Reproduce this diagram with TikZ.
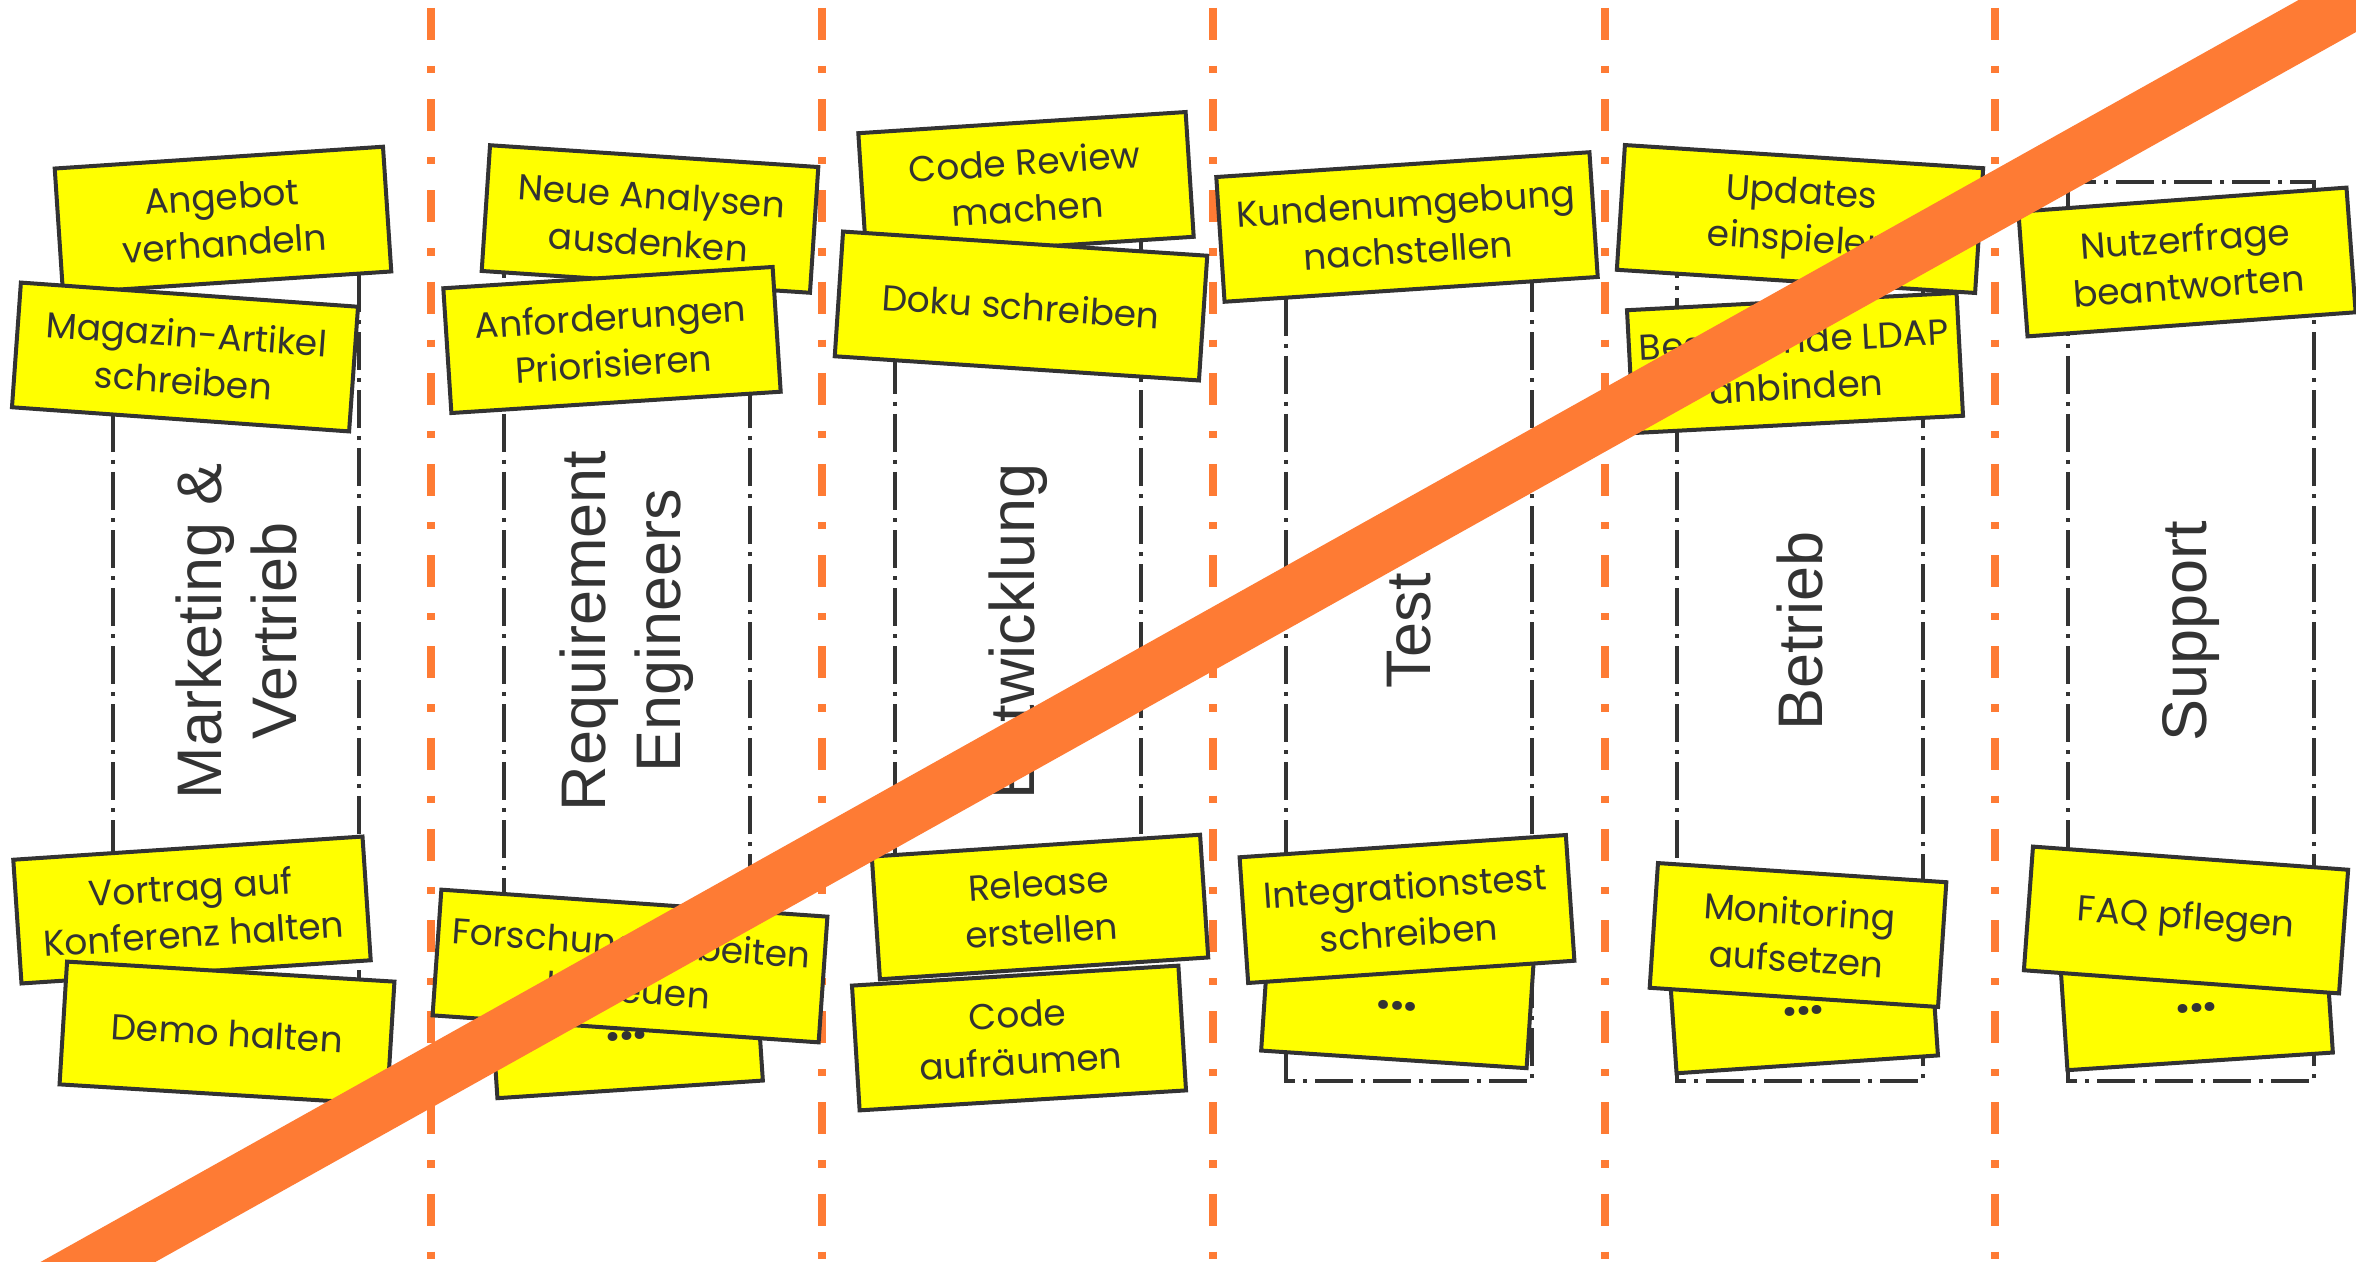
\documentclass[tikz,border=0pt]{standalone}
\usepackage{fontspec}
\newfontfamily\notefam{Poppins}
\newfontfamily\lanefam{Liberation Sans}
\definecolor{dkgray}{HTML}{333333}
\definecolor{noteyellow}{HTML}{FFFF00}
\definecolor{sepor}{RGB}{254,123,52}
\newcommand{\notedots}{\raisebox{-6.5pt}[0pt][0pt]{\bfseries\fontsize{24}{24}\selectfont ...}}
\tikzset{
  sepline/.style={draw=sepor, line width=3.6pt, dash pattern=on 16pt off 13pt on 3.6pt off 13pt},
  lanerect/.style={draw=dkgray, line width=1.6pt, dash pattern=on 19pt off 4pt on 2pt off 4pt},
  lanelabel/.style={rotate=90, align=center, text=dkgray, font=\lanefam\fontsize{31.5}{37.5}\selectfont, inner sep=0pt},
  note/.style={draw=dkgray, fill=noteyellow, line width=2pt, align=center, text=dkgray,
    font=\notefam\fontsize{18}{23.5}\selectfont, inner sep=0pt, minimum height=62.5pt},
  band/.style={draw=sepor, line width=28pt}
}
\begin{document}
\begin{tikzpicture}[x=0.5pt,y=0.5pt]
\useasboundingbox (0,0) rectangle (2356,-1262);
\fill[white] (0,0) rectangle (2356,-1262);
% separators
\foreach \sx/\nm in {431/s1,822/s2,1213/s3,1605/s4,1995/s5}{
  \coordinate (\nm t) at (\sx,-8);
  \coordinate (\nm b) at (\sx,-1270);
  \draw[sepline] (\nm t) -- (\nm b);
}
% lane rectangles and labels
\foreach \cx/\nm in {236/l1,627/l2,1018/l3,1409/l4,1800/l5,2191/l6}{
  \draw[lanerect] (\cx-123,-182) rectangle (\cx+123,-1081);
  \coordinate (\nm) at (\cx,-631);
}
\node[lanelabel] (lab1) at (l1) {Marketing \&\\Vertrieb};
\node[lanelabel] (lab2) at (l2) {Requirement\\Engineers};
\node[lanelabel] (lab3) at (l3) {Entwicklung};
\node[lanelabel] (lab4) at (l4) {Test};
\node[lanelabel] (lab5) at (l5) {Betrieb};
\node[lanelabel] (lab6) at (l6) {Support};
% notes lane 1
\node[note, minimum width=164.5pt, rotate=3.8] (ang) at (223,-220) {Angebot\\verhandeln};
\node[note, minimum width=169pt, rotate=-4.1] (mag) at (185,-357) {Magazin-Artikel\\schreiben};
\node[note, minimum width=175pt, minimum height=62pt, rotate=3.8] (vor) at (192,-910) {Vortrag auf\\Konferenz halten};
\node[note, minimum width=164pt, minimum height=61.5pt, rotate=-3.5] (demo) at (227,-1033) {Demo halten};
% lane 2
\node[note, minimum width=164.5pt, minimum height=63pt, rotate=-3.8] (neue) at (650,-219) {Neue Analysen\\ausdenken};
\node[note, minimum width=165pt, rotate=3.7] (anf) at (612,-340) {Anforderungen\\Priorisieren};
\node[note, minimum width=133pt, rotate=3.8] (dots2) at (626,-1027) {\notedots};
\node[note, minimum width=193.5pt, minimum height=63pt, rotate=-4] (for) at (630,-966) {Forschungsarbeiten\\betreuen};
% lane 3
\node[note, minimum width=164pt, rotate=3.7] (cr) at (1026,-185) {Code Review\\machen};
\node[note, minimum width=182.5pt, rotate=-3.8] (doku) at (1021,-306) {Doku schreiben};
\node[note, minimum width=164.5pt, minimum height=61.5pt, rotate=3.8] (rel) at (1040,-907) {Release\\erstellen};
\node[note, minimum width=163.5pt, rotate=3.5] (code) at (1019,-1038) {Code\\aufräumen};
% lane 4
\node[note, minimum width=187pt, rotate=3.8] (kund) at (1407,-227) {Kundenumgebung\\nachstellen};
\node[note, minimum width=133pt, rotate=-3.8] (dots4) at (1398,-997) {\notedots};
\node[note, minimum width=163.5pt, minimum height=63pt, rotate=3.9] (integ) at (1407,-909) {Integrationstest\\schreiben};
% lane 5
\node[note, minimum width=179.5pt, rotate=-3.7] (upd) at (1800,-219) {Updates\\einspielen};
\node[note, minimum width=165pt, minimum height=61.5pt, rotate=3.0] (ldap) at (1795,-363) {Bestehende LDAP\\anbinden};
\node[note, minimum width=131pt, rotate=3.9] (dots5) at (1803,-1002) {\notedots};
\node[note, minimum width=144.5pt, rotate=-3.8] (mon) at (1798,-935) {Monitoring\\aufsetzen};
% lane 6
\node[note, minimum width=164.5pt, rotate=4.2] (nutz) at (2187,-262) {Nutzerfrage\\beantworten};
\node[note, minimum width=133pt, rotate=3.8] (dots6) at (2196,-999) {\notedots};
\node[note, minimum width=158pt, minimum height=62pt, rotate=-4.2] (faq) at (2186,-920) {FAQ pflegen};
% diagonal band
\begin{scope}
\clip (0,0) rectangle (2356,-1262);
\coordinate (bandA) at (-100,-1372.6);
\coordinate (bandB) at (2500,80.5);
\draw[band] (bandA) -- (bandB);
\end{scope}
\end{tikzpicture}
\end{document}
